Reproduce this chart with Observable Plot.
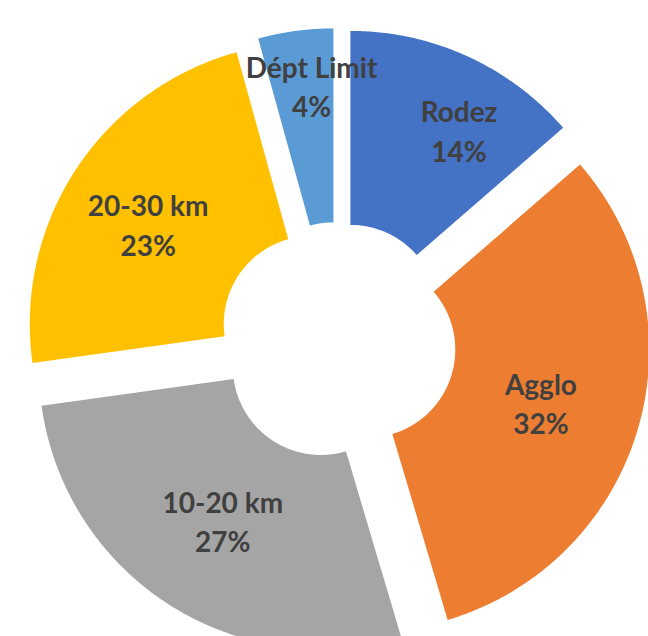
<!DOCTYPE html>
<html><head><meta charset="utf-8">
<script src="https://cdn.jsdelivr.net/npm/d3@7"></script>
<script src="https://cdn.jsdelivr.net/npm/@observablehq/plot@0.6"></script>
<style>html,body{margin:0;padding:0;background:#fff;overflow:hidden}#chart svg{display:block}</style>
</head><body><div id="chart"></div>
<script>
// ---- data ----
const categories = ["Rodez", "Agglo", "10-20 km", "20-30 km", "Dépt Limit"];
const shares = [13.6, 31.8, 27.4, 22.9, 4.3];
const colors = ["#4472C4", "#ED7D31", "#A5A5A5", "#FFC000", "#5B9BD5"];

// ---- layout ----
const W = 648, H = 636;
const CX = 337.1, CY = 340.5;        // pixel position of the doughnut centre
const R_OUT = 282, R_IN = 88, EXPLODE = 30.9, R_LABEL = 185;
const labelNudge = {                 // pixel nudges of the data labels
  "Rodez": [32, -15], "Agglo": [-4, 1], "10-20 km": [2, -3],
  "20-30 km": [-9, 1], "Dépt Limit": [3, -42]
};

const total = d3.sum(shares);
let acc = 0;
const slices = categories.map((name, i) => {
  const a0 = acc / total * 2 * Math.PI; acc += shares[i];
  const a1 = acc / total * 2 * Math.PI;
  const mid = (a0 + a1) / 2;
  return {name, value: shares[i], a0, a1, mid,
          ox: EXPLODE * Math.sin(mid), oy: EXPLODE * Math.cos(mid)};
});

const points = [];
for (const s of slices) {
  const n = Math.max(8, Math.ceil((s.a1 - s.a0) / (Math.PI / 360)));
  for (let k = 0; k <= n; k++) {
    const t = s.a0 + (s.a1 - s.a0) * k / n;
    points.push({name: s.name, x: s.ox + R_OUT * Math.sin(t), y: s.oy + R_OUT * Math.cos(t)});
  }
  for (let k = n; k >= 0; k--) {
    const t = s.a0 + (s.a1 - s.a0) * k / n;
    points.push({name: s.name, x: s.ox + R_IN * Math.sin(t), y: s.oy + R_IN * Math.cos(t)});
  }
}

const labels = slices.map(s => {
  const [dx, dy] = labelNudge[s.name];
  return {
    x: s.ox + R_LABEL * Math.sin(s.mid) + dx,
    y: s.oy + R_LABEL * Math.cos(s.mid) - dy,
    text: `${s.name}\n${Math.round(s.value / total * 100)}%`
  };
});

const chart = Plot.plot({
  width: W, height: H, margin: 0,
  style: {background: "white"},
  x: {domain: [-CX, W - CX], range: [0, W], axis: null},
  y: {domain: [CY - H, CY], range: [H, 0], axis: null},
  color: {domain: categories, range: colors},
  marks: [
    Plot.line(points, {x: "x", y: "y", z: "name", fill: "name", stroke: "none", curve: "linear", clip: true}),
    Plot.text(labels, {x: "x", y: "y", text: "text", fontSize: 28, fontWeight: "bold",
      fontFamily: "Lato", fill: "#404040", lineHeight: 1.4, lineAnchor: "middle"})
  ]
});
document.getElementById("chart").appendChild(chart);
</script>
</body></html>
